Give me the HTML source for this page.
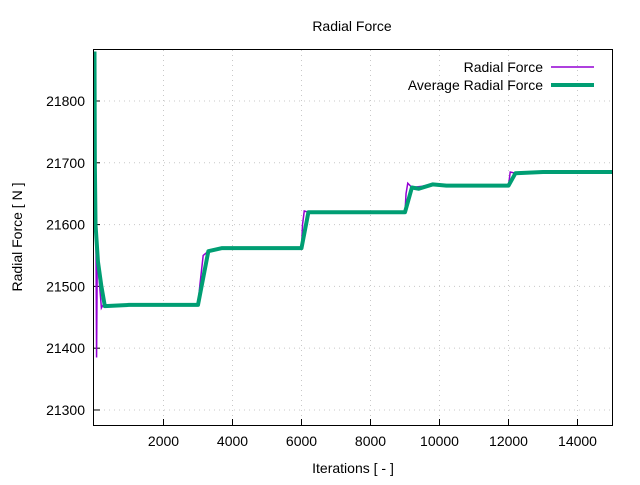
<!DOCTYPE html>
<html><head><meta charset="utf-8"><style>
body{margin:0;background:#fff}
text{font-family:"Liberation Sans",sans-serif;font-size:14px;fill:#000}
</style></head><body>
<svg id="c" width="640" height="480">
<text x="352" y="31" text-anchor="middle">Radial Force</text>
<g id="grid"></g>
<g id="ticks"></g>
<g id="series"></g>
<rect x="93.5" y="49.5" width="519" height="376" fill="none" stroke="#000" stroke-width="1"/>
<text x="353" y="473" text-anchor="middle">Iterations [ - ]</text>
<text transform="translate(22,237) rotate(-90)" text-anchor="middle">Radial Force [ N ]</text>
<g>
<text x="543" y="72" text-anchor="end">Radial Force</text>
<line x1="551" y1="67" x2="594" y2="67" stroke="#9400d3" stroke-width="1.5"/>
<text x="543" y="90" text-anchor="end">Average Radial Force</text>
<line x1="551" y1="85" x2="594" y2="85" stroke="#009e73" stroke-width="4"/>
</g>
</svg>
<script>
const xTicks=[2000,4000,6000,8000,10000,12000,14000];
const yTicks=[21300,21400,21500,21600,21700,21800];
const radialIter=[0,20,40,60,80,150,200,250,1000,3000,3050,3150,3300,3700,6000,6030,6080,6200,9000,9030,9080,9200,9500,9800,10200,12000,12050,12200,12500,15000];
const radialVal=[21880,21750,21600,21385,21550,21500,21465,21470,21470,21470,21500,21550,21557,21562,21562,21600,21622,21620,21620,21650,21667,21660,21662,21666,21663,21663,21685,21683,21685,21685];
const avgIter=[0,10,30,100,200,300,1000,3000,3300,3700,6000,6200,9000,9200,9400,9800,10200,12000,12200,13000,15000];
const avgVal=[21880,21700,21600,21540,21500,21468,21470,21470,21557,21562,21562,21620,21620,21660,21658,21665,21663,21663,21683,21685,21685];
const X0=94.5,X1=612,XMIN=0,XMAX=15000,Y0=425,Y1=50,YMIN=21275.7,YMAX=21882.5;
const sx=v=>X0+(v-XMIN)/(XMAX-XMIN)*(X1-X0);
const sy=v=>Y0-(v-YMIN)/(YMAX-YMIN)*(Y0-Y1);
const NS="http://www.w3.org/2000/svg";
function mk(t,a,p){const e=document.createElementNS(NS,t);for(const k in a)e.setAttribute(k,a[k]);p.appendChild(e);return e;}
const grid=document.getElementById('grid'),ticks=document.getElementById('ticks'),ser=document.getElementById('series');
xTicks.forEach(v=>{const x=sx(v);
const g=mk('line',{x1:x,y1:50,x2:x,y2:425,stroke:'#c8c8c8','stroke-dasharray':'1,4'},grid);


const t=mk('line',{x1:x,y1:425,x2:x,y2:419,stroke:'#000'},ticks);


const l=mk('text',{x:x,y:446,'text-anchor':'middle'},ticks);l.textContent=v;

});
yTicks.forEach(v=>{const y=sy(v);
const g=mk('line',{x1:94,y1:y,x2:612,y2:y,stroke:'#c8c8c8','stroke-dasharray':'1,4'},grid);


const t=mk('line',{x1:94,y1:y,x2:100,y2:y,stroke:'#000'},ticks);


const l=mk('text',{x:85,y:y+5,'text-anchor':'end'},ticks);l.textContent=v;

});
const cp=mk('clipPath',{id:'clip'},ser);mk('rect',{x:94,y:50,width:518,height:375},cp);
const p1=mk('polyline',{points:radialIter.map((v,i)=>sx(v)+','+sy(radialVal[i])).join(' '),fill:'none',stroke:'#9400d3','stroke-width':1.5,'clip-path':'url(#clip)'},ser);


const p2=mk('polyline',{points:avgIter.map((v,i)=>sx(v)+','+sy(avgVal[i])).join(' '),fill:'none',stroke:'#009e73','stroke-width':4,'stroke-linejoin':'round','clip-path':'url(#clip)'},ser);


</script>
</body></html>
